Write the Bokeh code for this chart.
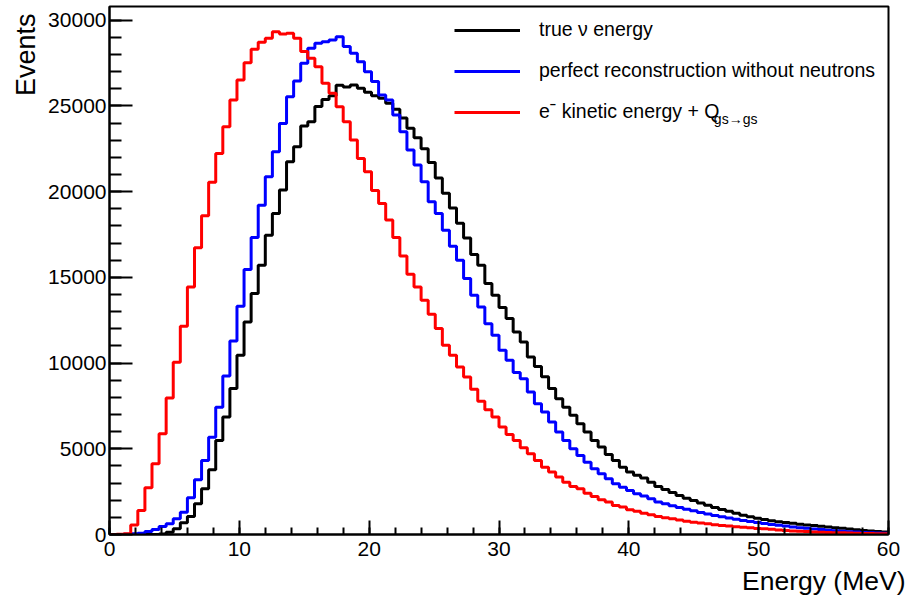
from bokeh.plotting import figure
from bokeh.models import Range1d, Legend, LegendItem, Title, Label, SingleIntervalTicker
from bokeh.embed import file_html
from bokeh.resources import INLINE

# ---- data (110 bins from 0 to 60 MeV) ----
n_bins = 110
e_min, e_max = 0.0, 60.0

true_nu = [0, 0, 0, 0, 0, 0, 0, 30, 135, 330,
           680, 1050, 1790, 2670, 3780, 5490, 6850, 8510, 10450, 12400,
           14060, 15710, 17460, 18730, 20090, 21740, 22620, 23830, 24080, 24960,
           25380, 25600, 26200, 26100, 26220, 26030, 25800, 25600, 25450, 25150,
           24800, 24300, 23700, 23150, 22500, 21700, 20800, 19900, 19050, 18150,
           17300, 16330, 15710, 14640, 13960, 13240, 12600, 11810, 11230, 10350,
           9800, 9200, 8510, 7920, 7430, 6950, 6460, 5980, 5490, 5100,
           4670, 4320, 3930, 3640, 3450, 3300, 3050, 2800, 2620, 2450,
           2280, 2120, 1990, 1840, 1700, 1580, 1460, 1350, 1240, 1130,
           1040, 950, 870, 800, 740, 700, 650, 600, 560, 520,
           480, 440, 400, 360, 320, 280, 240, 200, 170, 140]

perfect_reco = [0, 0, 10, 50, 80, 175, 290, 470, 620, 915,
                1300, 2140, 3190, 4320, 5680, 7430, 9240, 11290, 13320, 15460,
                17330, 19210, 20870, 22330, 23980, 25540, 26450, 27490, 28360, 28650,
                28750, 28850, 29040, 28460, 28070, 27580, 27000, 26420, 25640, 25350,
                24470, 23500, 22430, 21550, 20570, 19410, 18730, 17750, 16820, 16000,
                14930, 13960, 13270, 12300, 11620, 10750, 10160, 9450, 9090, 8310,
                7630, 7140, 6560, 5980, 5490, 5000, 4610, 4220, 3840, 3540,
                3250, 2960, 2760, 2570, 2380, 2250, 2080, 1900, 1800, 1680,
                1570, 1470, 1380, 1290, 1190, 1110, 1030, 960, 890, 820,
                760, 700, 640, 590, 540, 490, 440, 400, 360, 320,
                285, 250, 220, 190, 165, 140, 120, 100, 85, 70]

electron_q = [0, 10, 40, 560, 1400, 2730, 4130, 5880, 7960, 10050,
              12150, 14440, 16720, 18590, 20550, 22230, 23790, 25350, 26510, 27520,
              28300, 28710, 28950, 29330, 29200, 29240, 28950, 28170, 27780, 27290,
              26320, 25740, 24950, 24080, 23010, 21940, 21160, 20070, 19310, 18340,
              17330, 16240, 15180, 14440, 13670, 12850, 12010, 11040, 10450, 9770,
              9190, 8480, 7780, 7280, 6850, 6270, 5840, 5490, 5060, 4710,
              4320, 3930, 3640, 3350, 3050, 2800, 2670, 2410, 2220, 2030,
              1890, 1690, 1600, 1440, 1360, 1240, 1150, 1050, 975, 920,
              850, 780, 720, 670, 620, 570, 530, 490, 455, 420,
              390, 355, 330, 300, 265, 235, 205, 190, 170, 150,
              135, 120, 105, 95, 85, 75, 65, 55, 50, 45]

labels = ["true \u03bd energy",
          "perfect reconstruction without neutrons",
          "e\u02c9 kinetic energy + Q"]
subscript = "gs\u2192gs"
colors = ["black", "#0000ff", "#ff0000"]

x_title = "Energy (MeV)"
y_title = "Events"
y_max = 30800

# ---- figure ----
FONT = "Liberation Sans"
p = figure(width=912, height=600, output_backend="svg", toolbar_location=None,
           title=None, x_range=Range1d(e_min, e_max), y_range=Range1d(0, y_max),
           min_border_left=109, min_border_right=24, min_border_top=6,
           min_border_bottom=66)
p.background_fill_color = "white"
p.border_fill_color = "white"
p.grid.visible = False
p.outline_line_color = "black"
p.outline_line_width = 2

edges = [e_min + i * (e_max - e_min) / n_bins for i in range(n_bins + 1)]

renderers = []
for vals, col in zip([true_nu, perfect_reco, electron_q], colors):
    r = p.step(edges, list(vals) + [vals[-1]], mode="after",
               line_color=col, line_width=3)
    renderers.append(r)

# axes, ROOT style
xa = p.xaxis[0]
xa.ticker = SingleIntervalTicker(interval=10, num_minor_ticks=5)
xa.major_tick_in = 14
xa.major_tick_out = 0
xa.minor_tick_in = 7
xa.minor_tick_out = 0
xa.axis_line_width = 2
xa.major_tick_line_width = 2
xa.minor_tick_line_width = 2
xa.major_label_text_font = FONT
xa.major_label_text_font_size = "21px"
xa.major_label_standoff = 7
xa.major_label_text_color = "black"

ya = p.yaxis[0]
ya.ticker = SingleIntervalTicker(interval=5000, num_minor_ticks=5)
ya.major_tick_in = 23
ya.major_tick_out = 0
ya.minor_tick_in = 12
ya.minor_tick_out = 0
ya.axis_line_width = 2
ya.major_tick_line_width = 2
ya.minor_tick_line_width = 2
ya.major_label_text_font = FONT
ya.major_label_text_font_size = "21px"
ya.major_label_standoff = 3
ya.major_label_text_color = "black"

p.add_layout(Title(text=y_title, align="right", text_font=FONT,
                   text_font_size="27px", text_font_style="normal",
                   text_color="black", offset=7), "left")
p.add_layout(Title(text=x_title, align="right", text_font=FONT,
                   text_font_size="26.5px", text_font_style="normal",
                   text_color="black", offset=-17), "below")

items = [LegendItem(label=lab, renderers=[r]) for lab, r in zip(labels, renderers)]
legend = Legend(items=items, location=(345, 411), orientation="vertical",
                glyph_width=66, glyph_height=20, label_height=20,
                label_standoff=19, spacing=18, padding=0, margin=0,
                border_line_color=None, background_fill_alpha=0,
                label_text_font=FONT, label_text_font_size="19.5px",
                label_text_color="black")
p.add_layout(legend)

p.add_layout(Label(x=46.55, y=24250, text=subscript, text_font=FONT,
                   text_font_size="14px", text_baseline="alphabetic",
                   text_color="black"))

open("out.html", "w").write(file_html(p, INLINE))
